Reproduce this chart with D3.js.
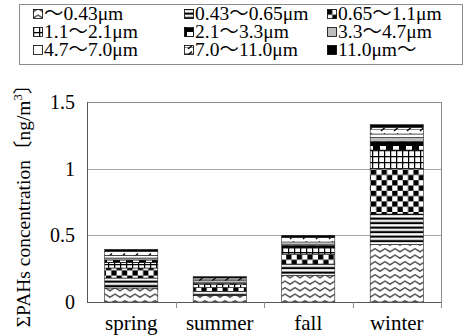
<!DOCTYPE html>
<html>
<head>
<meta charset="utf-8">
<script src="https://cdn.jsdelivr.net/npm/d3@7"></script>
<style>
  body { margin: 0; background: #fff; }
  svg { display: block; font-family: "Liberation Serif", "Times New Roman", "Noto Sans CJK JP", serif; }
</style>
</head>
<body>
<div id="chart"></div>
<script>
// data
const seasons = ["spring", "summer", "fall", "winter"];
const sizeBins = ["～0.43μm", "0.43～0.65μm", "0.65～1.1μm", "1.1～2.1μm", "2.1～3.3μm",
  "3.3～4.7μm", "4.7～7.0μm", "7.0～11.0μm", "11.0μm～"];
// ng/m3 per size bin, one value per season (spring, summer, fall, winter)
const bin043 = [0.105, 0.05, 0.20, 0.43];
const bin065 = [0.075, 0.03, 0.085, 0.23];
const bin11 = [0.075, 0.03, 0.075, 0.34];
const bin21 = [0.04, 0.02, 0.045, 0.14];
const bin33 = [0.02, 0.01, 0.02, 0.065];
const bin47 = [0.015, 0.01, 0.01, 0.03];
const bin70 = [0.02, 0.01, 0.015, 0.025];
const bin110 = [0.03, 0.02, 0.035, 0.05];
const binTop = [0.015, 0.01, 0.015, 0.02];
const yTicks = [0, 0.5, 1, 1.5];

const binValues = [bin043, bin065, bin11, bin21, bin33, bin47, bin70, bin110, binTop];
const patternIds = ["wave", "hstripe", "checker", "grid", "brick", "gray", "white", "slash", "black"];

const width = 464, height = 335;
const margin = { top: 102, right: 23, bottom: 33, left: 87 };

const svg = d3.select("#chart").append("svg")
  .attr("width", width)
  .attr("height", height);

// fill patterns
const defs = svg.append("defs");
function pattern(id, w, h) {
  const p = defs.append("pattern")
    .attr("id", id)
    .attr("patternUnits", "userSpaceOnUse")
    .attr("width", w)
    .attr("height", h);
  return p;
}
let p = pattern("wave", 10, 6.5);
p.append("rect").attr("width", 10).attr("height", 6.5).attr("fill", "#fff");
p.append("path").attr("d", "M-2.5,3.4 L0,4.8 L5,1.6 L10,4.8 L12.5,3.4")
  .attr("fill", "none").attr("stroke", "#333").attr("stroke-width", 1.3);

p = pattern("hstripe", 6, 4.5);
p.append("rect").attr("width", 6).attr("height", 4.5).attr("fill", "#fff");
p.append("rect").attr("y", 1.5).attr("width", 6).attr("height", 2.2).attr("fill", "#000");

p = pattern("checker", 10.6, 10.6);
p.append("rect").attr("width", 10.6).attr("height", 10.6).attr("fill", "#fff");
p.append("rect").attr("width", 5.3).attr("height", 5.3).attr("fill", "#000");
p.append("rect").attr("x", 5.3).attr("y", 5.3).attr("width", 5.3).attr("height", 5.3).attr("fill", "#000");

p = pattern("grid", 6, 6);
p.append("rect").attr("width", 6).attr("height", 6).attr("fill", "#fff");
p.append("path").attr("d", "M0,0.6 H6 M0.6,0 V6").attr("stroke", "#000").attr("stroke-width", 1.3);

p = pattern("brick", 13, 8);
p.append("rect").attr("width", 13).attr("height", 8).attr("fill", "#000");
p.append("rect").attr("x", 3).attr("y", 2).attr("width", 6).attr("height", 4).attr("fill", "#fff");

p = pattern("gray", 4, 4);
p.append("rect").attr("width", 4).attr("height", 4).attr("fill", "#bdbdbd");

p = pattern("white", 4, 4);
p.append("rect").attr("width", 4).attr("height", 4).attr("fill", "#fff");

p = pattern("slash", 13, 6);
p.append("rect").attr("width", 13).attr("height", 6).attr("fill", "#fff");
p.append("path").attr("d", "M0,3.5 H13").attr("stroke", "#555").attr("stroke-width", 0.7);
p.append("path").attr("d", "M4,5 L8,1.5").attr("stroke", "#000").attr("stroke-width", 1.3);

p = pattern("black", 4, 4);
p.append("rect").attr("width", 4).attr("height", 4).attr("fill", "#000");

// legend
const legendCols = [33, 184, 327];
const legendRows = [20, 38, 56];
svg.append("rect")
  .attr("x", 19.5).attr("y", 4.5)
  .attr("width", 443).attr("height", 60)
  .attr("fill", "#fff").attr("stroke", "#8c8c8c");

const legendItems = svg.append("g")
  .selectAll("g")
  .data(sizeBins)
  .join("g")
  .attr("transform", (d, i) => `translate(${legendCols[i % 3]},${legendRows[Math.floor(i / 3)]})`);

legendItems.append("rect")
  .attr("x", 0.5).attr("y", -10.5)
  .attr("width", 9).attr("height", 9)
  .attr("fill", (d, i) => `url(#${patternIds[i]})`)
  .attr("stroke", "#000")
  .attr("stroke-width", 0.8);

legendItems.append("text")
  .attr("x", 11)
  .attr("font-size", 19.5)
  .text((d) => d);

// scales
const x = d3.scaleBand()
  .domain(seasons)
  .range([margin.left, width - margin.right])
  .paddingInner(0.4)
  .paddingOuter(0.2);

const y = d3.scaleLinear()
  .domain([0, 1.5])
  .range([height - margin.bottom, margin.top]);

// gridlines
svg.append("g")
  .selectAll("line")
  .data(yTicks.filter((t) => t > 0 && t < 1.5))
  .join("line")
  .attr("x1", margin.left).attr("x2", width - margin.right)
  .attr("y1", (d) => Math.round(y(d)) + 0.5)
  .attr("y2", (d) => Math.round(y(d)) + 0.5)
  .attr("stroke", "#a6a6a6");

// plot frame
svg.append("rect")
  .attr("x", margin.left + 0.5).attr("y", margin.top + 0.5)
  .attr("width", width - margin.left - margin.right)
  .attr("height", height - margin.top - margin.bottom)
  .attr("fill", "none")
  .attr("stroke", "#8c8c8c");

// stacked bars
const table = seasons.map((s, i) => {
  const row = { season: s };
  patternIds.forEach((id, k) => { row[id] = binValues[k][i]; });
  return row;
});
const stacked = d3.stack().keys(patternIds)(table);

svg.append("g")
  .selectAll("g")
  .data(stacked)
  .join("g")
  .attr("fill", (d) => `url(#${d.key})`)
  .selectAll("rect")
  .data((d) => d)
  .join("rect")
  .attr("x", (d) => x(d.data.season))
  .attr("y", (d) => y(d[1]))
  .attr("width", x.bandwidth())
  .attr("height", (d) => y(d[0]) - y(d[1]))
  .attr("stroke", "#222")
  .attr("stroke-width", 0.6);

// axes
const bottom = height - margin.bottom;
svg.append("line")
  .attr("x1", margin.left).attr("x2", width - margin.right)
  .attr("y1", bottom + 0.5).attr("y2", bottom + 0.5)
  .attr("stroke", "#555");
svg.append("line")
  .attr("x1", margin.left + 0.5).attr("x2", margin.left + 0.5)
  .attr("y1", margin.top).attr("y2", bottom)
  .attr("stroke", "#555");

// category boundary ticks
const boundaries = seasons.map((s, i) => margin.left + x.step() * (i + 1));
svg.append("g")
  .selectAll("line")
  .data(boundaries)
  .join("line")
  .attr("x1", (d) => Math.round(d) + 0.5).attr("x2", (d) => Math.round(d) + 0.5)
  .attr("y1", bottom).attr("y2", bottom + 6)
  .attr("stroke", "#8c8c8c");

svg.append("g")
  .selectAll("text")
  .data(seasons)
  .join("text")
  .attr("x", (d) => x(d) + x.bandwidth() / 2)
  .attr("y", 330)
  .attr("text-anchor", "middle")
  .attr("font-size", 21)
  .text((d) => d);

const yAxis = svg.append("g")
  .attr("transform", `translate(${margin.left},0)`)
  .call(d3.axisLeft(y).tickValues(yTicks).tickSize(0).tickPadding(12).tickFormat(d3.format("")));
yAxis.select(".domain").remove();
yAxis.selectAll("text")
  .attr("font-family", "Liberation Serif, serif")
  .attr("font-size", 20)
  .attr("fill", "#000");

// y label
const yLabel = svg.append("text")
  .attr("transform", "translate(30,201) rotate(-90)")
  .attr("text-anchor", "middle")
  .attr("font-size", 19.5);
yLabel.append("tspan").text("ΣPAHs concentration〔ng/m");
yLabel.append("tspan").attr("font-size", 12.5).attr("dy", -8).text("3");
yLabel.append("tspan").attr("dy", 8).text("〕");
</script>
</body>
</html>
